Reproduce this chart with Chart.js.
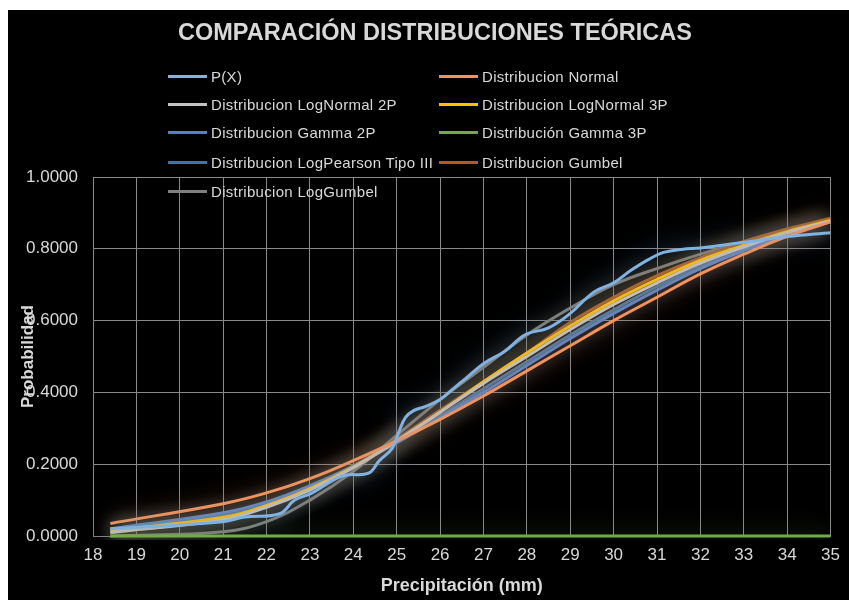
<!DOCTYPE html>
<html lang="es">
<head>
    <meta charset="UTF-8">
    <title>Comparación distribuciones teóricas</title>
    <script src="https://cdn.jsdelivr.net/npm/chart.js"></script>
    <style>
        html, body {
            margin: 0;
            padding: 0;
            background: #fff;
        }
        #wrap {
            position: absolute;
            left: 8px;
            top: 10px;
            width: 841px;
            height: 590px;
            background: #000;
        }
        #grafico {
            display: block;
        }
        #titulo {
            position: absolute;
            left: 0;
            top: 9px;
            width: 854px;
            text-align: center;
            font-family: "Liberation Sans", Arial, sans-serif;
            font-size: 23.5px;
            font-weight: bold;
            color: #d9d9d9;
        }
        #leyenda {
            position: absolute;
            left: 0;
            top: 0;
            font-family: "Liberation Sans", Arial, sans-serif;
            font-size: 15px;
            letter-spacing: 0.3px;
            color: #d9d9d9;
        }
        .item {
            position: absolute;
            height: 20px;
            display: flex;
            align-items: center;
            white-space: nowrap;
        }
        .linea {
            display: inline-block;
            width: 39px;
            height: 3px;
            margin-right: 4px;
        }
    </style>
</head>
<body>
    <div id="wrap">
        <canvas id="grafico" width="841" height="590"></canvas>
        <div id="titulo">COMPARACIÓN DISTRIBUCIONES TEÓRICAS</div>
        <div id="leyenda"></div>
    </div>

    <script>
        // Valores
        const xTeorico = [18.4, 21, 22, 23, 24, 25, 26, 27, 28, 29, 30, 31, 32, 33, 34, 35];
        const normal      = [0.035, 0.090, 0.120, 0.160, 0.210, 0.265, 0.325, 0.390, 0.460, 0.530, 0.600, 0.665, 0.730, 0.785, 0.835, 0.875];
        const logNormal2P = [0.010, 0.045, 0.080, 0.128, 0.190, 0.265, 0.345, 0.425, 0.500, 0.575, 0.645, 0.705, 0.760, 0.805, 0.845, 0.877];
        const logNormal3P = [0.015, 0.052, 0.085, 0.132, 0.192, 0.265, 0.345, 0.430, 0.510, 0.585, 0.655, 0.715, 0.768, 0.810, 0.848, 0.879];
        const gamma2P     = [0.020, 0.065, 0.095, 0.140, 0.195, 0.260, 0.330, 0.400, 0.475, 0.550, 0.620, 0.685, 0.745, 0.795, 0.840, 0.875];
        const gamma3P     = [0, 0, 0, 0, 0, 0, 0, 0, 0, 0, 0, 0, 0, 0, 0, 0];
        const logPearson  = [0.018, 0.060, 0.092, 0.138, 0.195, 0.262, 0.335, 0.410, 0.485, 0.560, 0.630, 0.695, 0.752, 0.800, 0.843, 0.877];
        const gumbel      = [0.008, 0.050, 0.085, 0.135, 0.195, 0.270, 0.350, 0.430, 0.510, 0.595, 0.665, 0.725, 0.775, 0.820, 0.855, 0.885];
        const logGumbel   = [0.000, 0.012, 0.040, 0.100, 0.180, 0.280, 0.380, 0.470, 0.560, 0.635, 0.700, 0.745, 0.785, 0.820, 0.850, 0.880];

        // Probabilidad empírica P(X)
        const xObs = [18.4, 21.0, 21.5, 22.3, 22.65, 23.05, 23.6, 23.85, 24.35, 24.6, 24.9, 25.05, 25.2, 25.4, 25.65,
                      26.0, 26.3, 26.6, 27.0, 27.5, 27.95, 28.5, 29.0, 29.55, 30.0, 30.4, 30.8, 31.15, 31.6, 32.0, 33.0, 34.0, 35.0];
        const pObs = [0.020, 0.040, 0.053, 0.062, 0.100, 0.120, 0.160, 0.170, 0.175, 0.210, 0.245, 0.290, 0.330, 0.350, 0.360,
                      0.380, 0.410, 0.440, 0.480, 0.515, 0.560, 0.580, 0.620, 0.680, 0.705, 0.740, 0.770, 0.790, 0.799, 0.802, 0.818, 0.834, 0.845];

        const fuente = '"Liberation Sans", Arial, sans-serif';
        const colorTexto = '#d9d9d9';

        function pares(xs, ys) {
            return xs.map((x, i) => ({ x: x, y: ys[i] }));
        }

        function serie(label, xs, ys, color, glow) {
            return {
                label: label,
                data: pares(xs, ys),
                borderColor: color,
                backgroundColor: color,
                glow: glow,
                borderWidth: 3,
                pointRadius: 0,
                tension: 0.4,
                fill: false,
                clip: { left: 0, right: 0, top: 0, bottom: 4 }
            };
        }

        const datasets = [
            serie('P(X)', xObs, pObs, '#7fb3e3', 'rgba(91,155,213,0.9)'),
            serie('Distribucion Normal', xTeorico, normal, '#f4935a', 'rgba(237,125,49,0.85)'),
            serie('Distribucion LogNormal 2P', xTeorico, logNormal2P, '#c4c4c4', 'rgba(190,190,190,0.7)'),
            serie('Distribucion LogNormal 3P', xTeorico, logNormal3P, '#ffc000', 'rgba(255,192,0,0.7)'),
            serie('Distribucion Gamma 2P', xTeorico, gamma2P, '#4f7fd6', 'rgba(68,114,196,0.85)'),
            serie('Distribución Gamma 3P', xTeorico, gamma3P, '#70ad47', 'rgba(112,173,71,0.6)'),
            serie('Distribucion LogPearson Tipo III', xTeorico, logPearson, '#3f74a8', 'rgba(37,94,145,0.85)'),
            serie('Distribucion Gumbel', xTeorico, gumbel, '#b5581c', 'rgba(158,72,14,0.85)'),
            serie('Distribucion LogGumbel', xTeorico, logGumbel, '#808080', 'rgba(120,120,120,0.7)')
        ];
        // la serie en cero se dibuja encima del eje
        datasets[5].order = -1;

        // Efecto de brillo alrededor de las líneas
        const brillo = {
            id: 'brillo',
            beforeDatasetDraw(chart, args) {
                const ds = chart.data.datasets[args.index];
                chart.ctx.save();
                chart.ctx.shadowColor = ds.glow;
                chart.ctx.shadowBlur = 22;
            },
            afterDatasetDraw(chart) {
                chart.ctx.restore();
            }
        };

        // Título del eje Y, encima de las etiquetas como en el original
        const tituloY = {
            id: 'tituloY',
            afterDraw(chart) {
                const { ctx, chartArea } = chart;
                ctx.save();
                ctx.translate(20, (chartArea.top + chartArea.bottom) / 2);
                ctx.rotate(-Math.PI / 2);
                ctx.font = 'bold 17px ' + fuente;
                ctx.fillStyle = colorTexto;
                ctx.textAlign = 'center';
                ctx.textBaseline = 'middle';
                ctx.fillText('Probabilidad', 0, 0);
                ctx.restore();
            }
        };

        const chart = new Chart(document.getElementById('grafico'), {
            type: 'line',
            data: { datasets: datasets },
            options: {
                responsive: false,
                animation: false,
                layout: { padding: { top: 167, right: 14 } },
                plugins: {
                    legend: { display: false },
                    tooltip: { enabled: false },
                    title: { display: false }
                },
                scales: {
                    x: {
                        type: 'linear',
                        min: 18,
                        max: 35,
                        ticks: {
                            stepSize: 1,
                            color: colorTexto,
                            font: { family: fuente, size: 17 },
                            padding: 9
                        },
                        grid: { color: '#8a8a8a', drawTicks: false },
                        border: { color: '#8a8a8a' },
                        title: {
                            display: true,
                            text: 'Precipitación (mm)',
                            color: colorTexto,
                            font: { family: fuente, size: 18, weight: 'bold' },
                            padding: { top: 4, bottom: 3 }
                        },
                        afterFit(scale) { scale.height = 64; }
                    },
                    y: {
                        min: 0,
                        max: 1,
                        ticks: {
                            stepSize: 0.2,
                            color: colorTexto,
                            font: { family: fuente, size: 17 },
                            padding: 15,
                            callback: v => v.toFixed(4)
                        },
                        grid: { color: '#8a8a8a', drawTicks: false },
                        border: { color: '#8a8a8a' },
                        afterFit(scale) { scale.width = 85; }
                    }
                }
            },
            plugins: [brillo, tituloY]
        });

        // Leyenda en dos columnas
        const leyenda = document.getElementById('leyenda');
        const columnasX = [160, 431];
        const filasY = [66, 94, 122.7, 152.3, 181.7];
        datasets.forEach((ds, i) => {
            const item = document.createElement('div');
            item.className = 'item';
            item.style.left = columnasX[i % 2] + 'px';
            item.style.top = (filasY[Math.floor(i / 2)] - 10) + 'px';
            const linea = document.createElement('span');
            linea.className = 'linea';
            linea.style.background = ds.borderColor;
            item.appendChild(linea);
            item.appendChild(document.createTextNode(ds.label));
            leyenda.appendChild(item);
        });
    </script>
</body>
</html>
